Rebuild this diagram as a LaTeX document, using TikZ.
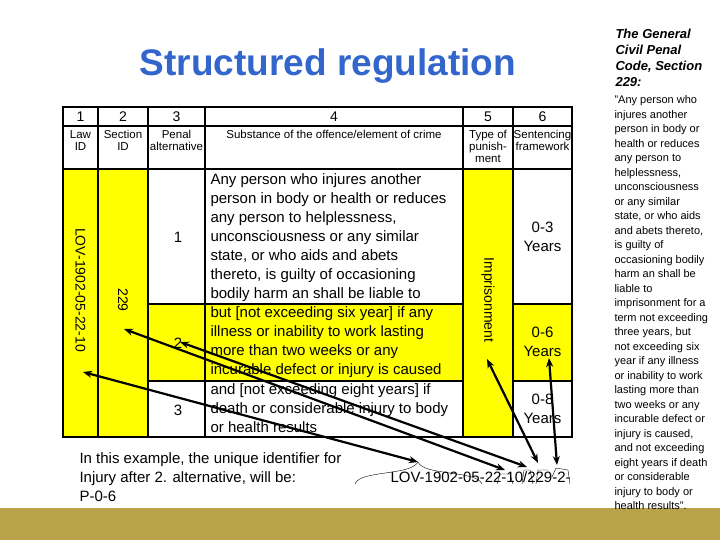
\documentclass[tikz,border=0pt]{standalone}
\usepackage{fontspec}
\setmainfont{Liberation Sans}
\usetikzlibrary{arrows.meta}
\definecolor{ylw}{RGB}{255,255,0}
\definecolor{ttl}{RGB}{51,102,204}
\definecolor{bar}{RGB}{184,162,74}
\begin{document}
\begin{tikzpicture}[x=1pt,y=-1pt,
  cell/.style={font=\fontsize{11.5}{12}\selectfont,align=center},
  body/.style={font=\fontsize{15}{19}\selectfont,align=left,anchor=north west},
  arr/.style={draw,line width=2.2pt,{Stealth[length=9pt,width=7pt]}-{Stealth[length=9pt,width=7pt]}}]
\useasboundingbox (0,0) rectangle (720,540);
\fill[bar] (0,508) rectangle (720,540);
\node[text=ttl,font=\bfseries\fontsize{37}{37}\selectfont] (title) at (328,66) {Structured regulation};
% yellow fills
\fill[ylw] (63,169) rectangle (148,437);
\fill[ylw] (463,169) rectangle (513,437);
\fill[ylw] (148,304) rectangle (463,381);
\fill[ylw] (513,304) rectangle (572,381);
% grid
\draw[line width=1.2pt] (63,107) rectangle (572,437);
\foreach \x in {98,148,205,463,513} \draw[line width=1.2pt] (\x,107) -- (\x,437);
\draw[line width=1.2pt] (63,126) -- (572,126);
\draw[line width=1.2pt] (63,169) -- (572,169);
\draw[line width=1.2pt] (148,304) -- (463,304) (513,304) -- (572,304);
\draw[line width=1.2pt] (148,381) -- (463,381) (513,381) -- (572,381);
% headers
\foreach \n/\x in {1/80.5,2/123,3/176.5,4/334,5/488,6/542.5}
  \node[font=\fontsize{14}{14}\selectfont] (h\n) at (\x,117) {\n};
\node[cell,anchor=north] (l1) at (80.5,127) {Law\\ID};
\node[cell,anchor=north] (l2) at (123,127) {Section\\ID};
\node[cell,anchor=north] (l3) at (176.5,127) {Penal\\alternative};
\node[cell,anchor=north] (l4) at (334,127) {Substance of the offence/element of crime};
\node[cell,anchor=north] (l5) at (488,127) {Type of\\punish-\\ment};
\node[cell,anchor=north] (l6) at (542.5,127) {Sentencing\\framework};
% body
\node[font=\fontsize{14}{14}\selectfont,rotate=-90] (lov) at (80.5,290) {LOV-1902-05-22-10};
\node[font=\fontsize{14}{14}\selectfont,rotate=-90] (sec) at (123,300) {229};
\node[font=\fontsize{14}{14}\selectfont,rotate=-90] (imp) at (488,300) {Imprisonment};
\node[font=\fontsize{15}{15}\selectfont] (a1) at (178,237) {1};
\node[font=\fontsize{15}{15}\selectfont] (a2) at (178,343) {2};
\node[font=\fontsize{15}{15}\selectfont] (a3) at (178,410) {3};
\node[body] (t1) at (207,170) {Any person who injures another\\person in body or health or reduces\\any person to helplessness,\\unconsciousness or any similar\\state, or who aids and abets\\thereto, is guilty of occasioning\\bodily harm an shall be liable to};
\node[body] (t2) at (207,303) {but [not exceeding six year] if any\\illness or inability to work lasting\\more than two weeks or any\\incurable defect or injury is caused};
\node[body] (t3) at (207,380) {and [not exceeding eight years] if\\death or considerable injury to body\\or health results};
\node[font=\fontsize{15}{19}\selectfont,align=center] (s1) at (542.5,237) {0-3\\Years};
\node[font=\fontsize{15}{19}\selectfont,align=center] (s2) at (542.5,342) {0-6\\Years};
\node[font=\fontsize{15}{19}\selectfont,align=center] (s3) at (542.5,409) {0-8\\Years};
% bottom text
\node[font=\fontsize{15}{19}\selectfont,align=left,anchor=north west] (ex) at (76,449) {In this example, the unique identifier for\\Injury after 2. alternative, will be:\\P-0-6};
\node[font=\fontsize{15}{15}\selectfont,anchor=west] (id) at (387,477) {LOV-1902-05-22-10/229-2-};
% braces
\draw (355,484) .. controls (360,470) and (410,476) .. (418,462) .. controls (424,476) and (476,470) .. (482,484);
\draw (497,484) -- (500,474) -- (510,474) -- (513,484);
\draw (522,484) -- (524,470) -- (530,470) -- (533,484);
\draw (536,484) -- (538,470) -- (548,470);
\draw (552,477) -- (556,468) -- (568,470) -- (570,484);
% arrow ends
\coordinate (b1) at (418,462);
\coordinate (b2) at (505,470);
\coordinate (b3) at (527,467);
\coordinate (b4) at (538,463);
\coordinate (b5) at (557,465);
\coordinate (e1) at (83,372);
\coordinate (e2) at (124,329);
\coordinate (e3) at (180,342);
\coordinate (e4) at (487,359);
\coordinate (e5) at (549,358);
\draw[arr] (e1) -- (b1);
\draw[arr] (e2) -- (b2);
\draw[arr] (e3) -- (b3);
\draw[arr] (e4) -- (b4);
\draw[arr] (e5) -- (b5);
% right text
\node[font=\bfseries\itshape\fontsize{13}{16}\selectfont,align=left,anchor=north west] (rt) at (612,26) {The General\\Civil Penal\\Code, Section\\229:};
\node[font=\fontsize{11}{14.5}\selectfont,align=left,anchor=north west] (rb) at (611,92) {"Any person who\\injures another\\person in body or\\health or reduces\\any person to\\helplessness,\\unconsciousness\\or any similar\\state, or who aids\\and abets thereto,\\is guilty of\\occasioning bodily\\harm an shall be\\liable to\\imprisonment for a\\term not exceeding\\three years, but\\not exceeding six\\year if any illness\\or inability to work\\lasting more than\\two weeks or any\\incurable defect or\\injury is caused,\\and not exceeding\\eight years if death\\or considerable\\injury to body or\\health results".};
\end{tikzpicture}
\end{document}
